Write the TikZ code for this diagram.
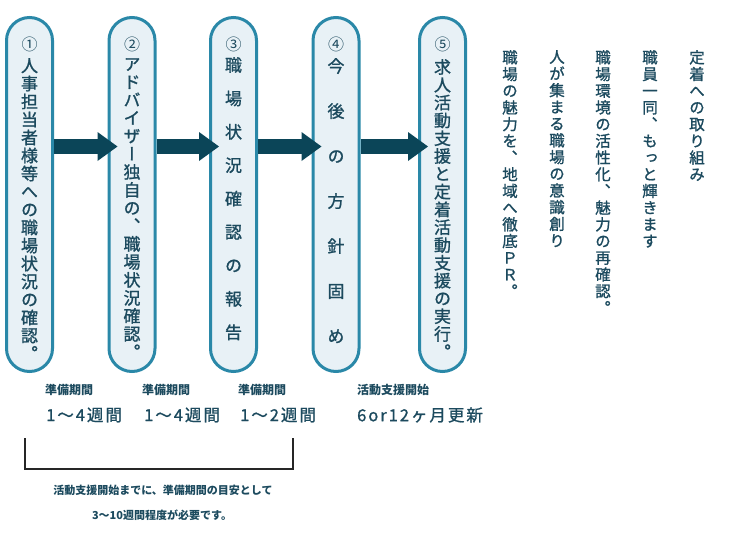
\documentclass[tikz,border=0pt]{standalone}
\usepackage{fontspec}
\usepackage{tikz}
\usetikzlibrary{arrows.meta}
\newfontfamily\jp{Noto Sans CJK JP}
\newfontfamily\jpv[RawFeature=+vert,FakeBold=1.2]{Noto Sans CJK JP}
\newfontfamily\jpls[LetterSpace=12,FakeBold=1.2]{Noto Sans CJK JP}
\definecolor{pillline}{HTML}{2A88A8}
\definecolor{pillfill}{HTML}{E8F1F6}
\definecolor{arrowcol}{HTML}{0B4558}
\definecolor{textcol}{HTML}{1C4A5E}

\makeatletter
\def\tate#1{\tate@#1\@nil}
\def\tate@#1#2\@nil{#1\ifx\relax#2\relax\else\\\tate@#2\@nil\fi}
\makeatother

\begin{document}
\begin{tikzpicture}[x=1pt, y=-1pt,
			pill/.style={draw=pillline, fill=pillfill, line width=3pt, rounded corners=23pt, minimum width=46pt, minimum height=354pt},
			num/.style={text=textcol, inner sep=0pt, font=\jp\fontsize{16pt}{16pt}\selectfont},
			tatetext/.style={text=textcol, align=center, inner sep=0pt, anchor=north, font=\jpv\fontsize{17pt}{#1}\selectfont},
			tatetext/.default=18pt,
			sidetext/.style={text=textcol, align=center, inner sep=0pt, anchor=north, font=\jpv\fontsize{15.5pt}{16.7pt}\selectfont},
			flow/.style={draw=arrowcol, line width=15pt, -{Triangle[length=20pt,width=29pt,line width=0pt]}},
			phase/.style={text=textcol, inner sep=0pt, anchor=west, font=\jp\bfseries\fontsize{12pt}{12pt}\selectfont},
			period/.style={text=textcol, inner sep=0pt, anchor=west, font=\jpls\fontsize{16.5pt}{16.5pt}\selectfont},
			note/.style={text=textcol, inner sep=0pt, font=\jp\bfseries\fontsize{11pt}{11pt}\selectfont}
		]

		\useasboundingbox (0,0) rectangle (740,550);

		\node[pill] (p1) at (29.5,194.5) {};
		\node[pill] (p2) at (132,194.5) {};
		\node[pill] (p3) at (233.5,194.5) {};
		\node[pill] (p4) at (336,194.5) {};
		\node[pill] (p5) at (442.5,194.5) {};

		\node[num] (n1) at (29.5,44) {①};
		\node[num] (n2) at (132,44) {②};
		\node[num] (n3) at (233.5,44) {③};
		\node[num] (n4) at (336,44) {④};
		\node[num] (n5) at (442.5,44) {⑤};

		\node[tatetext] (t1) at (29.5,58) {\tate{人事担当者様等への職場状況の確認。}};
		\node[tatetext] (t2) at (132,58) {\tate{アドバイザー独自の、職場状況確認。}};
		\node[tatetext=33.4pt] (t3) at (233.5,57) {\tate{職場状況確認の報告}};
		\node[tatetext=45pt] (t4) at (336,58) {\tate{今後の方針固め}};
		\node[tatetext=17.8pt] (t5) at (442.5,59) {\tate{求人活動支援と定着活動支援の実行。}};

		\draw[flow] ([yshift=48pt]p1.east) -- ([xshift=10pt,yshift=48pt]p2.west);
		\draw[flow] ([yshift=48pt]p2.east) -- ([xshift=10pt,yshift=48pt]p3.west);
		\draw[flow] ([yshift=48pt]p3.east) -- ([xshift=10pt,yshift=48pt]p4.west);
		\draw[flow] ([yshift=48pt]p4.east) -- ([xshift=10pt,yshift=48pt]p5.west);

		\node[sidetext] (s1) at (697,50) {\tate{定着への取り組み}};
		\node[sidetext] (s2) at (650,50) {\tate{職員一同、もっと輝きます}};
		\node[sidetext] (s3) at (603,50) {\tate{職場環境の活性化、魅力の再確認。}};
		\node[sidetext] (s4) at (557,50) {\tate{人が集まる職場の意識創り}};
		\node[sidetext] (s5) at (510,50) {\tate{職場の魅力を、地域へ徹底ＰＲ。}};

		\node[phase] (ph1) at (45,390) {準備期間};
		\node[phase] (ph2) at (142,390) {準備期間};
		\node[phase] (ph3) at (238,390) {準備期間};
		\node[phase] (ph4) at (357,390) {活動支援開始};

		\node[period] (d1) at (46,415) {1～4週間};
		\node[period] (d2) at (144,415) {1～4週間};
		\node[period] (d3) at (240,415) {1～2週間};
		\node[period] (d4) at (357,415) {6or12ヶ月更新};

		\draw[line width=1.2pt, black!85] (25,438) |- (293,469) -- (293,438);

		\node[note] (m1) at (163,490) {活動支援開始までに、準備期間の目安として};
		\node[note] (m2) at (162,515) {3～10週間程度が必要です。};

	\end{tikzpicture}
\end{document}
